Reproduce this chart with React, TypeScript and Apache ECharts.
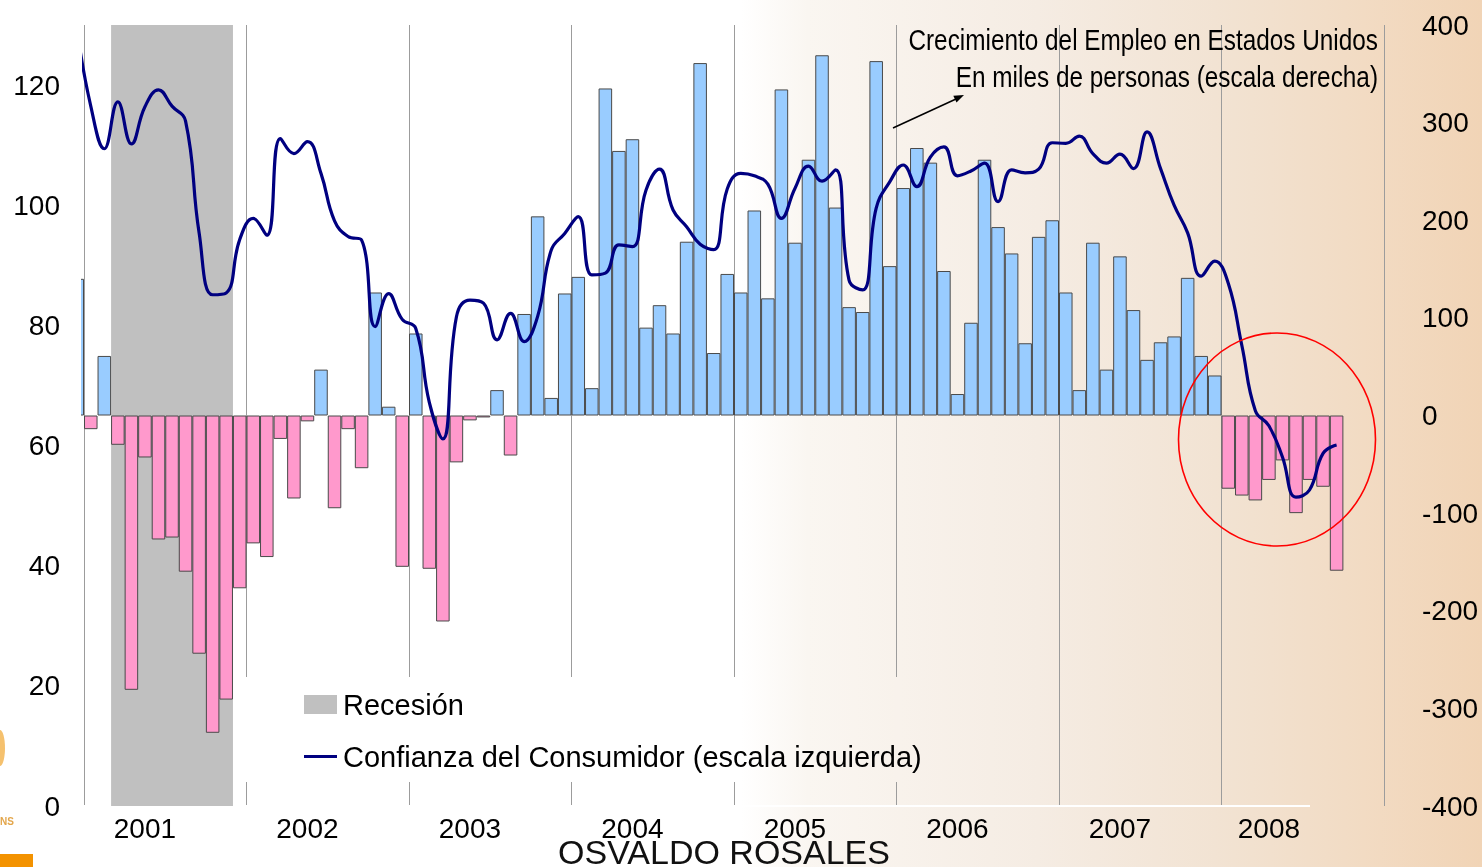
import React, { useEffect, useRef } from "react";
import * as echarts from "echarts";

// ---------- DATA ----------
const years = ["2001", "2002", "2003", "2004", "2005", "2006", "2007", "2008"];
const monthNames = ["Ene", "Feb", "Mar", "Abr", "May", "Jun", "Jul", "Ago", "Sep", "Oct", "Nov", "Dic"];
const categories = years.flatMap((y) => monthNames.map((m) => `${m} ${y}`));

// series start at Dic 2000 (one month before the first category)
const firstMonthOffset = -1;

// Crecimiento del empleo en EE.UU., miles de personas (escala derecha)
const employment = [
  140, // Dic 2000
  -14, 61, -30, -281, -43, -127, -125, -160, -244, -325, -291, -177, // 2001
  -131, -145, -24, -85, -6, 47, -95, -14, -54, 126, 9, -155, // 2002
  84, -157, -211, -48, -5, -2, 26, -41, 104, 204, 18, 125, // 2003
  142, 28, 335, 271, 283, 90, 113, 84, 178, 361, 64, 145, // 2004
  126, 210, 120, 334, 177, 262, 369, 213, 111, 106, 363, 153, // 2005
  233, 274, 259, 148, 22, 95, 262, 193, 166, 74, 183, 200, // 2006
  126, 26, 177, 47, 163, 108, 57, 75, 81, 141, 61, 41, // 2007
  -75, -82, -87, -66, -46, -100, -66, -73, -159, // 2008
];

// Confianza del Consumidor (escala izquierda)
const confidence = [
  129, // Dic 2000
  116.5, 109.4, 117.2, 110.2, 116.4, 119.2, 116.5, 114, 95.4, 85.1, 85.4, 94.3, // 2001
  97.8, 95.0, 111.1, 108.6, 110.6, 105.3, 97.4, 94.8, 94.2, 79.8, 85.3, 81.0, // 2002
  79.5, 67.2, 61.1, 81.4, 84.2, 83.7, 77.6, 82.0, 77.3, 81.5, 92.5, 95.3, // 2003
  98.1, 88.4, 88.7, 93.4, 93.1, 102.5, 106.0, 99.2, 96.4, 93.5, 92.6, 102.7, // 2004
  105.3, 104.9, 103.5, 97.8, 102.8, 106.5, 104.0, 105.9, 87.5, 85.9, 99.5, 103.9, // 2005
  106.7, 103.1, 108.0, 109.7, 104.9, 105.7, 107.0, 100.6, 105.9, 105.4, 106.0, 110.4, // 2006
  110.3, 111.5, 108.6, 107.0, 108.5, 106.1, 112.2, 106.1, 100.0, 95.4, 88.2, 90.7, // 2007
  87.0, 76.7, 65.8, 63.3, 58.1, 51.4, 52.6, 58.7, 60.1, // 2008
];

const recession = ["Mar 2001", "Nov 2001"];

const leftTicks = { min: 0, max: 130, interval: 20 };
const rightTicks = { min: -400, max: 400, interval: 100 };

const seriesNames = {
  recession: "Recesión",
  confidence: "Confianza del Consumidor (escala izquierda)",
  employment: "Crecimiento del Empleo en Estados Unidos",
};
const noteLines = [
  "Crecimiento del Empleo en Estados Unidos",
  "En miles de personas (escala derecha)",
];
const author = "OSVALDO ROSALES";

// ---------- STYLE ----------
const W = 1482;
const H = 867;
const FONT = '"Liberation Sans", Arial, Helvetica, sans-serif';
const bgStops: [number, string][] = [
  [0, "#FFFFFF"],
  [0.5, "#FFFFFF"],
  [0.545, "#FAF6F1"],
  [0.7, "#F5ECE3"],
  [0.82, "#F2E3D3"],
  [0.92, "#F2DBC3"],
  [1, "#F1D4B6"],
];

function hexToRgb(h: string) {
  const n = parseInt(h.slice(1), 16);
  return [(n >> 16) & 255, (n >> 8) & 255, n & 255];
}
function bgColorAt(frac: number) {
  for (let i = 0; i < bgStops.length - 1; i++) {
    const [a, ca] = bgStops[i];
    const [b, cb] = bgStops[i + 1];
    if (frac >= a && frac <= b) {
      const t = b === a ? 0 : (frac - a) / (b - a);
      const A = hexToRgb(ca);
      const B = hexToRgb(cb);
      const c = A.map((v, k) => Math.round(v + (B[k] - v) * t));
      return `rgb(${c[0]},${c[1]},${c[2]})`;
    }
  }
  return bgStops[bgStops.length - 1][1];
}

export default function App() {
  const ref = useRef<HTMLDivElement>(null);

  useEffect(() => {
    if (!ref.current) return;
    const chart = echarts.init(ref.current, undefined, { renderer: "svg" });

    const recStart = categories.indexOf(recession[0]);
    const recEnd = categories.indexOf(recession[1]) + 1;

    const barData = employment.map((v, i) => ({
      value: [i + firstMonthOffset + 0.5, v],
      itemStyle: { color: v >= 0 ? "#99CCFF" : "#FF99CC" },
    }));
    const lineData = confidence.map((v, i) => [i + firstMonthOffset + 0.5, v]);
    const lastYearStart = (years.length - 1) * 12;

    const baseGraphics: any[] = [
      {
        id: "bg",
        type: "rect",
        z: -100,
        silent: true,
        shape: { x: 0, y: 0, width: W, height: H },
        style: {
          fill: new echarts.graphic.LinearGradient(
            0, 0, 1, 0,
            bgStops.map(([o, c]) => ({ offset: o, color: c }))
          ),
        },
      },
      {
        // page margin left of the plot: the first (Dic 2000) bar shows only as a sliver
        id: "leftMargin",
        type: "rect",
        z: 5,
        silent: true,
        shape: { x: 62, y: 260, width: 19, height: 160 },
        style: { fill: "#FFFFFF" },
      },
      {
        id: "bottomWhite",
        type: "line",
        z: 1,
        silent: true,
        shape: { x1: 84, y1: 806, x2: 1310, y2: 806 },
        style: { stroke: "#FFFFFF", lineWidth: 2 },
      },
      {
        id: "note1",
        type: "text",
        z: 10,
        x: 1378,
        y: 40,
        scaleX: 0.84,
        style: {
          text: noteLines[0],
          fontSize: 29,
          fontFamily: FONT,
          fill: "#000",
          align: "right",
          verticalAlign: "middle",
        },
      },
      {
        id: "note2",
        type: "text",
        z: 10,
        x: 1378,
        y: 77,
        scaleX: 0.84,
        style: {
          text: noteLines[1],
          fontSize: 29,
          fontFamily: FONT,
          fill: "#000",
          align: "right",
          verticalAlign: "middle",
        },
      },
      {
        id: "arrowLine",
        type: "line",
        z: 10,
        silent: true,
        shape: { x1: 893, y1: 128, x2: 956, y2: 99 },
        style: { stroke: "#000", lineWidth: 1.5 },
      },
      {
        id: "arrowHead",
        type: "polygon",
        z: 10,
        silent: true,
        shape: { points: [[964, 95], [956.5, 102.6], [953.3, 95.8]] },
        style: { fill: "#000" },
      },
      {
        id: "circle",
        type: "ellipse",
        z: 10,
        silent: true,
        shape: { cx: 1277, cy: 439.5, rx: 98.5, ry: 106.5 },
        style: { fill: "none", stroke: "#FF0000", lineWidth: 1.6 },
      },
      {
        id: "author",
        type: "text",
        z: 10,
        x: 724,
        y: 869,
        style: {
          text: author,
          fontSize: 34,
          fontFamily: FONT,
          fill: "#111",
          align: "center",
          verticalAlign: "bottom",
        },
      },
      {
        id: "logoText",
        type: "text",
        z: 10,
        x: 0,
        y: 821,
        style: {
          text: "NS",
          fontSize: 10,
          fontWeight: "bold",
          fontFamily: FONT,
          fill: "#E3A64B",
          align: "left",
          verticalAlign: "middle",
        },
      },
      {
        id: "logoBar",
        type: "rect",
        z: 10,
        silent: true,
        shape: { x: 0, y: 854, width: 33, height: 13 },
        style: { fill: "#F39200" },
      },
      {
        id: "logoFlame",
        type: "ellipse",
        z: 10,
        silent: true,
        shape: { cx: 0, cy: 748, rx: 5, ry: 18 },
        style: { fill: "#F2B24A", opacity: 0.8 },
      },
    ];

    const option: any = {
      animation: false,
      textStyle: { fontFamily: FONT },
      grid: { left: 84, right: W - 1384, top: 25, bottom: H - 806, containLabel: false },
      xAxis: [
        {
          type: "value",
          min: 0,
          max: categories.length,
          interval: 12,
          axisLabel: { show: false },
          axisLine: { show: false },
          axisTick: { show: false },
          splitLine: { show: true, lineStyle: { color: "#9C9C9C", width: 1 } },
        },
        {
          type: "category",
          data: categories,
          position: "bottom",
          boundaryGap: true,
          axisLine: { show: false },
          axisTick: { show: false },
          splitLine: { show: false },
          axisLabel: {
            interval: (idx: number) => idx % 12 === (idx >= lastYearStart ? 3 : 4),
            formatter: (v: string) => v.split(" ")[1],
            fontSize: 28,
            color: "#000",
            fontFamily: FONT,
            margin: 8,
          },
        },
      ],
      yAxis: [
        {
          type: "value",
          position: "left",
          ...leftTicks,
          axisLine: { show: false },
          axisTick: { show: false },
          splitLine: { show: false },
          axisLabel: { fontSize: 28, color: "#000", margin: 24, showMaxLabel: false, fontFamily: FONT },
        },
        {
          type: "value",
          position: "right",
          ...rightTicks,
          axisLine: { show: false },
          axisTick: { show: false },
          splitLine: { show: false },
          axisLabel: { fontSize: 28, color: "#000", margin: 38, fontFamily: FONT },
        },
      ],
      legend: {
        orient: "vertical",
        left: 304,
        top: 690,
        padding: 0,
        itemGap: 23,
        itemWidth: 33,
        itemHeight: 19,
        selectedMode: false,
        textStyle: { fontSize: 29, color: "#000", fontFamily: FONT, padding: [0, 0, 0, 1] },
        data: [
          { name: seriesNames.recession, icon: "rect" },
          { name: seriesNames.confidence, icon: "path://M0,0H33V3H0Z" },
        ],
      },
      series: [
        {
          type: "line",
          name: seriesNames.recession,
          xAxisIndex: 0,
          yAxisIndex: 0,
          data: [],
          itemStyle: { color: "#C0C0C0" },
          lineStyle: { color: "#C0C0C0" },
          markArea: {
            silent: true,
            z: 1,
            itemStyle: { color: "#C0C0C0" },
            data: [[{ xAxis: recStart }, { xAxis: recEnd }]],
          },
        },
        {
          type: "bar",
          name: seriesNames.employment,
          xAxisIndex: 0,
          yAxisIndex: 1,
          data: barData,
          barWidth: "100%",
          clip: true,
          z: 2,
          itemStyle: { borderColor: "#4A4A4A", borderWidth: 1 },
        },
        {
          type: "line",
          name: seriesNames.confidence,
          xAxisIndex: 0,
          yAxisIndex: 0,
          data: lineData,
          smooth: 0.45,
          symbol: "none",
          clip: true,
          z: 3,
          lineStyle: { color: "#000080", width: 3.2 },
          itemStyle: { color: "#000080" },
        },
      ],
      graphic: baseGraphics,
    };

    chart.setOption(option);

    // year lines are interrupted behind the legend box
    const legendBoxX0 = 240;
    const legendBoxX1 = 965;
    const gaps: any[] = [];
    for (let k = 0; k <= years.length; k++) {
      const px = chart.convertToPixel({ xAxisIndex: 0 }, k * 12) as number;
      if (px > legendBoxX0 && px < legendBoxX1) {
        gaps.push({
          id: `gap${k}`,
          type: "rect",
          z: 1,
          silent: true,
          shape: { x: Math.round(px) - 3, y: 677, width: 6, height: 105 },
          style: { fill: bgColorAt(px / W) },
        });
      }
    }
    chart.setOption({ graphic: [...baseGraphics, ...gaps] });

    return () => chart.dispose();
  }, []);

  return (
    <div
      ref={ref}
      style={{ position: "fixed", left: 0, top: 0, width: W, height: H }}
    />
  );
}
